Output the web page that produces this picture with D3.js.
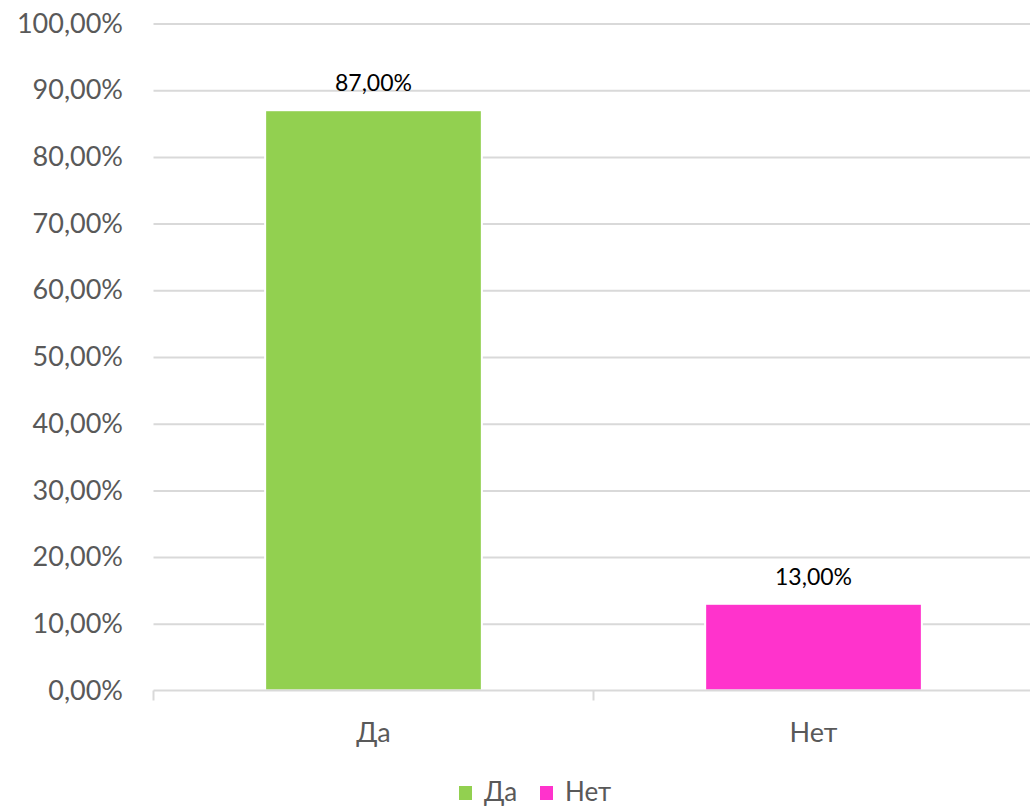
<!DOCTYPE html>
<html lang="ru">
<head>
<meta charset="utf-8">
<title>Да / Нет</title>
<script src="https://cdn.jsdelivr.net/npm/d3@7"></script>
<style>
    body { margin: 0; background: #fff; }
    svg text { font-family: Lato, "Open Sans", sans-serif; }
    .grid line { stroke: #d9d9d9; stroke-width: 2; }
    .grid path { display: none; }
    .yaxis path, .yaxis line { display: none; }
    .yaxis text { fill: #595959; font-size: 27px; }
    .xaxis line { stroke: #d9d9d9; stroke-width: 2; }
    .xaxis text { fill: #595959; font-size: 27px; }
</style>
</head>
<body>
<div id="chart"></div>
<script>
// data
var categories = ["Да", "Нет"];
var values = [0.87, 0.13];
var colors = ["#92d050", "#ff33cc"];
var yTicks = [0, 0.1, 0.2, 0.3, 0.4, 0.5, 0.6, 0.7, 0.8, 0.9, 1.0];

var width = 1030, height = 808;
var plotLeft = 153.5, plotRight = 1033.5, plotTop = 23.5, plotBottom = 690.5;

var fmt = function(v) {
    return (v * 100).toFixed(2).replace(".", ",") + "%";
};

var svg = d3.select("#chart").append("svg")
    .attr("width", width)
    .attr("height", height);

var x = d3.scaleBand()
    .domain(categories)
    .range([plotLeft, plotRight])
    .paddingInner(0.5075)
    .paddingOuter(0.2537);

var y = d3.scaleLinear()
    .domain([0, 1])
    .range([plotBottom, plotTop]);

// gridlines
svg.append("g")
    .attr("class", "grid")
    .attr("transform", "translate(" + plotLeft + ",0)")
    .call(d3.axisRight(y).tickValues(yTicks.slice(1)).tickSize(width - plotLeft).tickFormat(""));

// y labels
svg.append("g")
    .attr("class", "yaxis")
    .attr("transform", "translate(" + 133 + ",0)")
    .call(d3.axisLeft(y).tickValues(yTicks).tickSize(0).tickPadding(10).tickFormat(fmt));

// bars (white outline cuts the gridlines like in Excel)
svg.selectAll("rect.bar")
    .data(values)
    .enter().append("rect")
    .attr("class", "bar")
    .attr("x", function(d, i) { return x(categories[i]); })
    .attr("y", function(d) { return y(d); })
    .attr("width", x.bandwidth())
    .attr("height", function(d) { return plotBottom - y(d); })
    .style("fill", function(d, i) { return colors[i]; })
    .style("stroke", "#fff")
    .style("stroke-width", 2);

// x axis, ticks between categories
var xAxis = svg.append("g")
    .attr("class", "xaxis")
    .attr("transform", "translate(0," + plotBottom + ")");
xAxis.append("line")
    .attr("x1", plotLeft).attr("x2", width)
    .attr("y1", 0).attr("y2", 0);
xAxis.selectAll("line.tick")
    .data([plotLeft, (plotLeft + plotRight) / 2])
    .enter().append("line")
    .attr("class", "tick")
    .attr("x1", function(d) { return d; })
    .attr("x2", function(d) { return d; })
    .attr("y1", 0).attr("y2", 10);
xAxis.selectAll("text")
    .data(categories)
    .enter().append("text")
    .attr("x", function(d) { return x(d) + x.bandwidth() / 2; })
    .attr("y", 51)
    .attr("text-anchor", "middle")
    .text(function(d) { return d; });

// data labels
svg.selectAll("text.value")
    .data(values)
    .enter().append("text")
    .attr("class", "value")
    .attr("x", function(d, i) { return x(categories[i]) + x.bandwidth() / 2; })
    .attr("y", function(d) { return y(d) - 19; })
    .attr("text-anchor", "middle")
    .style("font-size", "23px")
    .style("fill", "#000")
    .text(fmt);

// legend
var legendX = [459, 540];
var legend = svg.selectAll("g.legend")
    .data(categories)
    .enter().append("g")
    .attr("class", "legend")
    .attr("transform", function(d, i) { return "translate(" + legendX[i] + ",786)"; });
legend.append("rect")
    .attr("width", 13).attr("height", 14)
    .style("fill", function(d, i) { return colors[i]; });
legend.append("text")
    .attr("x", 25)
    .attr("y", 15)
    .style("font-size", "26px")
    .style("fill", "#595959")
    .text(function(d) { return d; });
</script>
</body>
</html>
